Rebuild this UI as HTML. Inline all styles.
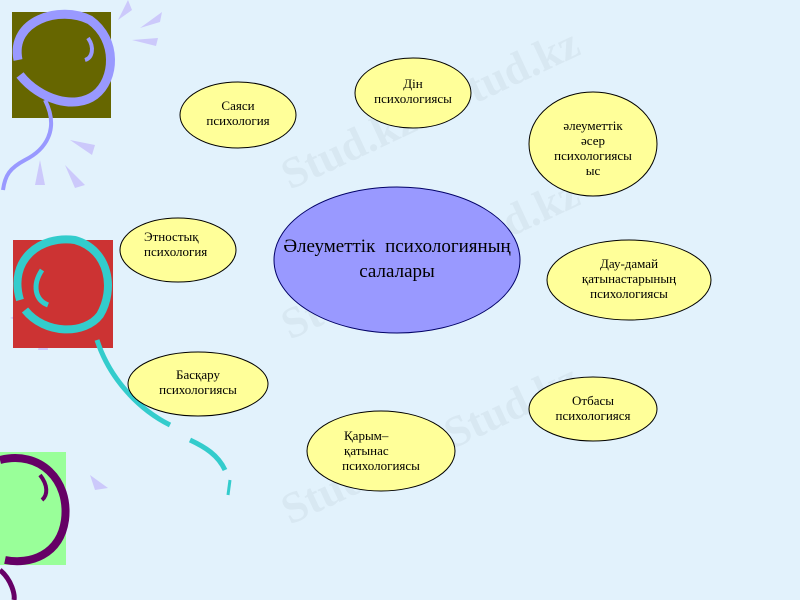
<!DOCTYPE html>
<html><head><meta charset="utf-8"><style>
html,body{margin:0;padding:0;width:800px;height:600px;overflow:hidden;background:#e2f2fc;}
svg{display:block}
text{font-family:"Liberation Serif",serif;fill:#000;}
</style></head><body>
<svg width="800" height="600" viewBox="0 0 800 600">
<rect width="800" height="600" fill="#e2f2fc"/>
<g fill="#ccc9fb">
<polygon points="118,20 128,0 132,10"/><polygon points="140,28 162,12 160,22"/><polygon points="132,40 158,38 156,46"/>
<polygon points="70,140 95,145 92,155"/><polygon points="35,185 40,160 45,185"/><polygon points="65,165 85,185 75,188"/>
<polygon points="10,318 28,310 22,322"/><polygon points="38,350 45,320 48,350"/><polygon points="65,310 80,330 72,335"/>
<polygon points="90,475 108,488 95,490"/><polygon points="45,505 55,478 58,505"/>
</g>
<rect x="12" y="12" width="99" height="106" fill="#666600"/>
<g fill="none" stroke="#9999ff" stroke-width="9">
<path d="M18,60 C10,20 60,5 90,20 C118,40 115,80 95,95 C75,110 40,100 20,75"/>
<path d="M45,100 C60,130 45,150 25,160 C10,168 5,175 3,190" stroke-width="4"/>
</g>
<path d="M88,38 C95,48 92,58 85,60" stroke="#9999ff" stroke-width="4" fill="none"/>
<rect x="13" y="240" width="100" height="108" fill="#cc3333"/>
<g fill="none" stroke="#33cccc" stroke-width="8">
<path d="M20,300 C8,260 40,235 75,240 C110,250 115,290 100,315 C85,335 45,335 25,310"/>
<path d="M42,270 C32,285 35,300 48,305" stroke-width="5"/>
<path d="M97,340 C110,380 140,410 170,425" stroke-width="5"/>
<path d="M190,440 C205,447 218,455 225,470" stroke-width="5"/>
<path d="M230,480 L228,495" stroke-width="3"/>
</g>
<rect x="0" y="452" width="66" height="113" fill="#99ff99"/>
<g fill="none" stroke="#660066" stroke-width="8">
<path d="M0,460 C40,450 70,480 65,520 C60,555 30,565 5,560"/>
<path d="M0,570 C12,580 15,595 14,600" stroke-width="5"/>
<path d="M40,475 C48,485 48,495 42,500" stroke-width="4"/>
</g>
<g font-family="Liberation Serif" font-weight="bold" font-size="44" opacity="0.35">
<text x="290" y="190" transform="rotate(-25 290 190)" style="fill:#c8d6e0">Stud.kz - Stud.kz</text>
<text x="290" y="340" transform="rotate(-25 290 340)" style="fill:#c8d6e0">Stud.kz - Stud.kz</text>
<text x="290" y="525" transform="rotate(-25 290 525)" style="fill:#c8d6e0">Stud.kz - Stud.kz</text>
</g>
<g fill="#ffff99" stroke="#000" stroke-width="1">
<ellipse cx="238" cy="115" rx="58" ry="33"/>
<ellipse cx="413" cy="93" rx="58" ry="35"/>
<ellipse cx="593" cy="144" rx="64" ry="52"/>
<ellipse cx="178" cy="250" rx="58" ry="32"/>
<ellipse cx="629" cy="280" rx="82" ry="40"/>
<ellipse cx="198" cy="384" rx="70" ry="32"/>
<ellipse cx="593" cy="409" rx="64" ry="32"/>
<ellipse cx="381" cy="451" rx="74" ry="40"/>
</g>
<ellipse cx="397" cy="260" rx="123" ry="73" fill="#9999ff" stroke="#000066" stroke-width="1"/>
<g font-size="13" text-anchor="middle">
<text x="238" y="110">Саяси</text><text x="238" y="125">психология</text>
<text x="413" y="88">Дін</text><text x="413" y="103">психологиясы</text>
<text x="593" y="130">әлеуметтік</text><text x="593" y="145">әсер</text><text x="593" y="160">психологиясы</text><text x="593" y="175">ыс</text>
<text x="629" y="268">Дау-дамай</text><text x="629" y="283">қатынастарының</text><text x="629" y="298">психологиясы</text>
<text x="198" y="379">Басқару</text><text x="198" y="394">психологиясы</text>
<text x="593" y="405">Отбасы</text><text x="593" y="420">психологияся</text>
<text x="381" y="470">психологиясы</text>
</g>
<g font-size="13">
<text x="144" y="241">Этностық</text><text x="144" y="256">психология</text>
<text x="344" y="440">Қарым–</text><text x="344" y="455">қатынас</text>
</g>
<g font-size="19" text-anchor="middle" fill="#000033">
<text x="397" y="252" word-spacing="5">Әлеуметтік  психологияның</text>
<text x="397" y="277">салалары</text>
</g>
</svg>
</body></html>
